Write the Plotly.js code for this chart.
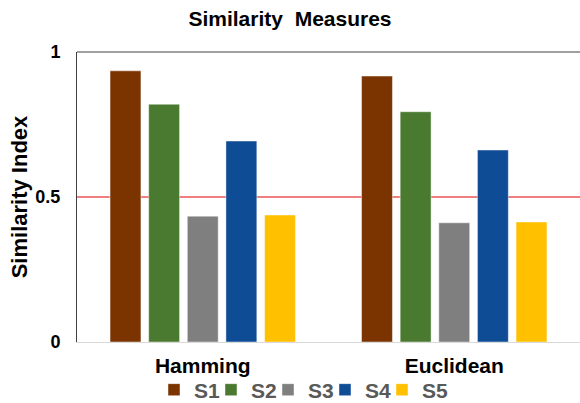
<!DOCTYPE html>
<html>
<head>
<meta charset="utf-8">
<script src="https://cdn.plot.ly/plotly-3.0.1.min.js"></script>
<style>html,body{margin:0;padding:0;background:#fff;}#chart{width:580px;height:403px;}</style>
</head>
<body>
<div id="chart"></div>
<script>
const categories = ["Hamming", "Euclidean"];
const seriesNames = ["S1", "S2", "S3", "S4", "S5"];
const s1 = [0.935, 0.917];
const s2 = [0.820, 0.794];
const s3 = [0.434, 0.411];
const s4 = [0.693, 0.662];
const s5 = [0.438, 0.414];
const colors = ["#7B3300", "#4A7A2F", "#7F7F7F", "#0F4C96", "#FFC000"];
const threshold = 0.5;

const allSeries = [s1, s2, s3, s4, s5];
const traces = allSeries.map((vals, i) => ({
  type: 'bar',
  name: '<b>' + seriesNames[i] + '</b>',
  x: categories,
  y: vals,
  marker: {color: colors[i], line: {color: 'rgba(255,255,255,0.45)', width: 1}},
  hoverinfo: 'x+y+name'
}));
// invisible spacer entry so the last legend label is not clipped
traces.push({
  type: 'scatter', mode: 'markers', name: ' ', x: [categories[0]], y: [0],
  marker: {color: 'rgba(0,0,0,0)', size: 1, line: {width: 0, color: 'rgba(0,0,0,0)'}},
  hoverinfo: 'skip', showlegend: true
});

const FONT = 'Liberation Sans, Arial, sans-serif';
const layout = {
  width: 580, height: 403,
  margin: {l: 77, r: 0, t: 52, b: 61},
  paper_bgcolor: '#fff', plot_bgcolor: '#fff',
  font: {family: FONT, color: '#000'},
  title: {text: '<b>Similarity  Measures</b>', x: 0.5, xref: 'container', y: 1 - 19/403, yref: 'container', yanchor: 'middle',
          font: {size: 21, color: '#000'}},
  barmode: 'group',
  bargap: 0.232,
  bargroupgap: 0.2,
  showlegend: true,
  legend: {orientation: 'h', x: 154/580, xref: 'container', xanchor: 'left', y: 1 - 390/403, yref: 'container', yanchor: 'middle',
           font: {size: 21, color: '#595959', family: FONT},
           itemwidth: 30, entrywidth: 12, traceorder: 'normal', tracegroupgap: 0, bgcolor: 'rgba(0,0,0,0)'},
  xaxis: {type: 'category', showgrid: false, zeroline: false, showline: true, linecolor: '#D9D9D9', linewidth: 1,
          ticks: '', tickfont: {size: 21, color: '#000', weight: 'bold'}, ticklabelstandoff: 5},
  yaxis: {range: [0, 1], tickvals: [0, 0.5, 1], ticktext: ['<b>0</b>', '<b>0.5</b>', '<b>1</b>'],
          showgrid: false, zeroline: false, showline: true, linecolor: '#404040', linewidth: 1,
          ticks: 'outside', ticklen: 12, tickcolor: 'rgba(0,0,0,0)', tickfont: {size: 18, color: '#000'},
          title: {text: '<b>Similarity Index</b>', font: {size: 22, color: '#000'}, standoff: 1}},
  shapes: [
    {type: 'line', xref: 'paper', yref: 'y', x0: 0, x1: 1, y0: threshold, y1: threshold, line: {color: '#E00000', width: 1}, layer: 'below'},
    {type: 'line', xref: 'paper', yref: 'paper', x0: 0, x1: 1, y0: 1, y1: 1, line: {color: '#404040', width: 1}}
  ]
};

Plotly.newPlot('chart', traces, layout, {displayModeBar: false, staticPlot: true});
</script>
</body>
</html>
